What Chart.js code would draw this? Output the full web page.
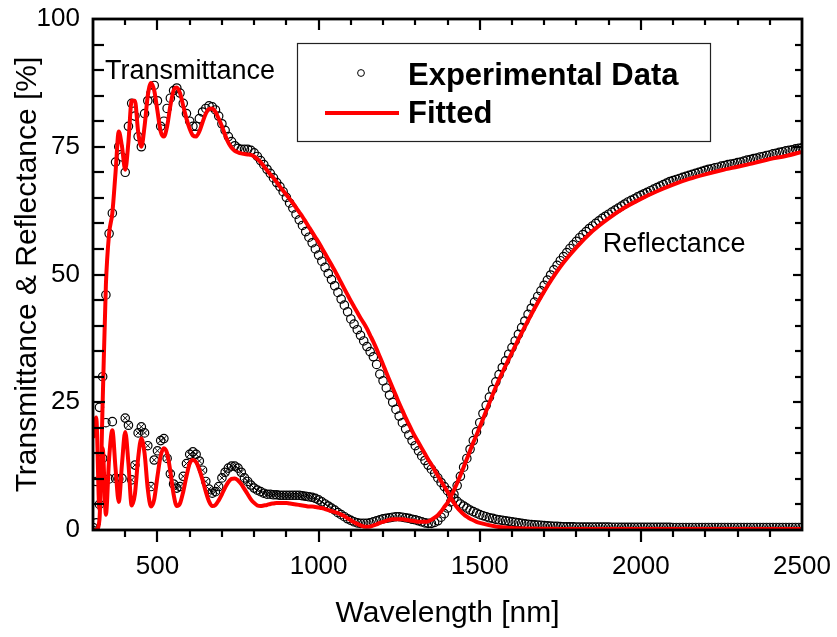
<!DOCTYPE html>
<html>
<head>
<meta charset="utf-8">
<script src="https://cdn.jsdelivr.net/npm/chart.js@4.4.1/dist/chart.umd.min.js"></script>
<style>
html,body{margin:0;padding:0;background:#fff;}
#wrap{width:837px;height:637px;}
</style>
</head>
<body>
<div id="wrap"><canvas id="c" width="837" height="637"></canvas></div>
<script>
// ---------------- DATA ----------------
const xTickValues = [500, 1000, 1500, 2000, 2500];
const yTickValues = [0, 25, 50, 75, 100];

// Experimental wavelengths (nm)
const expWl = [
300,310,320,330,340,350,360,370,380,390,
400,410,420,430,440,450,460,470,480,490,
500,510,520,530,540,550,560,570,580,590,
600,610,620,630,640,650,660,670,680,690,
700,710,720,730,740,750,760,770,780,790,
800,810,820,830,840,850,860,870,880,890,
900,910,920,930,940,950,960,970,980,990,
1000,1010,1020,1030,1040,1050,1060,1070,1080,1090,
1100,1110,1120,1130,1140,1150,1160,1170,1180,1190,
1200,1210,1220,1230,1240,1250,1260,1270,1280,1290,
1300,1310,1320,1330,1340,1350,1360,1370,1380,1390,
1400,1410,1420,1430,1440,1450,1460,1470,1480,1490,
1500,1510,1520,1530,1540,1550,1560,1570,1580,1590,
1600,1610,1620,1630,1640,1650,1660,1670,1680,1690,
1700,1710,1720,1730,1740,1750,1760,1770,1780,1790,
1800,1810,1820,1830,1840,1850,1860,1870,1880,1890,
1900,1910,1920,1930,1940,1950,1960,1970,1980,1990,
2000,2010,2020,2030,2040,2050,2060,2070,2080,2090,
2100,2110,2120,2130,2140,2150,2160,2170,2180,2190,
2200,2210,2220,2230,2240,2250,2260,2270,2280,2290,
2300,2310,2320,2330,2340,2350,2360,2370,2380,2390,
2400,2410,2420,2430,2440,2450,2460,2470,2480,2490,
2500];

// Experimental transmittance (%)
const expT = [
0.5,1.4,5,30,46,58,62,72,75,73,
70,79,83.5,81,77,75,81.5,84,85.5,87,
84,79,80,82.5,84.5,86,86.5,85.5,83.5,81.5,
80,79,79,80.5,81.8,82.5,83,82.8,82.2,81,
79.5,78.2,77,76,75.2,74.7,74.5,74.5,74.5,74.3,
73.8,73.1,72.3,71.5,70.6,69.8,68.9,68,67.2,66.2,
65.1,64,63,61.8,60.7,59.6,58.4,57.3,56.2,55,
53.8,52.6,51.4,50.2,49,47.8,46.5,45.2,44,42.7,
41.3,40.3,39.2,38.1,37,35.9,34.9,33.9,32.4,30.5,
29.2,27.8,26.4,25,23.6,22.3,21,19.8,18.6,17.5,
16.5,15.5,14.5,13.6,12.7,11.9,11.1,10.2,9.3,8.5,
7.7,6.9,6.2,5.6,5.1,4.7,4.3,3.9,3.6,3.3,
3.0,2.8,2.6,2.4,2.3,2.1,2.0,1.9,1.8,1.7,
1.6,1.5,1.4,1.3,1.2,1.1,1.05,1.0,0.95,0.9,
0.85,0.8,0.75,0.72,0.7,0.67,0.65,0.63,0.62,0.61,
0.6,0.6,0.59,0.59,0.58,0.58,0.57,0.57,0.56,0.56,
0.56,0.55,0.55,0.55,0.54,0.54,0.54,0.53,0.53,0.53,
0.53,0.52,0.52,0.52,0.52,0.51,0.51,0.51,0.51,0.51,
0.5,0.5,0.5,0.5,0.5,0.5,0.5,0.5,0.5,0.5,
0.5,0.5,0.5,0.5,0.5,0.5,0.5,0.5,0.5,0.5,
0.5,0.5,0.5,0.5,0.5,0.5,0.5,0.5,0.5,0.5,
0.5,0.5,0.5,0.5,0.5,0.5,0.5,0.5,0.5,0.5,
0.5];

// Experimental reflectance (%)
const expR = [
20,9.5,24,14,21,10,21.2,10.1,10,10.1,
21.9,20.5,9.8,12.7,19,20.2,19,16.5,8.5,13.7,
15.5,17.5,17.9,14,11,9,8.2,8.5,10.5,13,
14.8,15.3,14.8,13.5,11.7,9.5,8,7.2,7.5,8.5,
10.2,11.3,12.1,12.5,12.5,12.1,11.3,10.2,9.5,8.8,
8.2,7.8,7.5,7.2,7.0,7.0,6.9,6.9,6.8,6.8,
6.8,6.8,6.8,6.8,6.8,6.7,6.6,6.5,6.4,6.2,
5.9,5.5,5.1,4.7,4.3,3.9,3.4,3.0,2.6,2.2,
1.9,1.6,1.4,1.3,1.3,1.3,1.4,1.6,1.8,2.0,
2.2,2.3,2.4,2.5,2.6,2.6,2.5,2.4,2.3,2.1,
2.0,1.8,1.6,1.4,1.3,1.3,1.5,1.8,2.5,3.2,
4.3,5.5,7.0,8.7,10.5,12.3,14.0,15.8,17.5,19.2,
21.0,22.8,24.4,26.0,27.5,29.0,30.4,31.8,33.1,34.4,
35.7,37.0,38.3,39.6,40.9,42.2,43.4,44.6,45.7,46.8,
47.9,48.9,49.9,50.9,51.8,52.7,53.5,54.3,55.1,55.8,
56.5,57.2,57.8,58.4,59.0,59.5,60.0,60.5,61.0,61.4,
61.8,62.2,62.6,63.0,63.4,63.8,64.2,64.5,64.8,65.2,
65.5,65.8,66.1,66.4,66.7,67.0,67.3,67.6,67.9,68.2,
68.4,68.6,68.8,69.0,69.2,69.4,69.6,69.8,70.0,70.2,
70.4,70.6,70.7,70.9,71.0,71.2,71.3,71.5,71.6,71.7,
71.9,72.0,72.2,72.4,72.5,72.7,72.8,73.0,73.1,73.3,
73.4,73.6,73.7,73.9,74.0,74.2,74.3,74.4,74.6,74.7,
74.8];

// Fitted wavelengths (nm)
const fitWl = [
300,310,320,330,340,350,360,370,380,390,
400,410,420,430,440,450,460,470,480,490,
500,510,520,530,540,550,560,570,580,590,
600,610,620,630,640,650,660,670,680,690,
700,710,720,730,740,750,760,770,780,790,
800,810,820,830,840,850,860,870,880,890,
900,910,920,930,940,950,960,970,980,990,
1000,1010,1020,1030,1040,1050,1060,1070,1080,1090,
1100,1110,1120,1130,1140,1150,1160,1170,1180,1190,
1200,1210,1220,1230,1240,1250,1260,1270,1280,1290,
1300,1310,1320,1330,1340,1350,1360,1370,1380,1390,
1400,1410,1420,1430,1440,1450,1460,1470,1480,1490,
1500,1550,1600,1650,1700,1750,1800,1850,1900,1950,
2000,2050,2100,2150,2200,2250,2300,2350,2400,2450,
2500];

// Fitted transmittance (%)
const fitT = [
0,0,2,25,48,58,62,70,78,75,
70.5,76,84,84,78,75,79,85,87.5,86,
82,78,77,79,83,86,86.6,85.5,83,80.5,
78.5,77.2,77,78,79.8,81.5,82.4,82.5,81.8,80.5,
79,77.3,75.8,74.8,74.2,73.9,73.7,73.6,73.5,73.4,
73.1,72.6,72,71.2,70.4,69.6,68.9,68.1,67.2,66.4,
65.6,64.8,64.0,63.1,62.2,61.3,60.3,59.3,58.3,57.3,
56.3,55.2,54.1,53.0,51.9,50.8,49.6,48.4,47.2,46.0,
44.8,43.7,42.6,41.5,40.5,39.4,38.1,36.8,35.4,33.9,
32.4,30.8,29.3,27.8,26.3,24.8,23.4,22.0,20.7,19.4,
18.2,17.1,16.0,14.9,13.8,12.8,11.7,10.6,9.6,8.5,
7.5,6.4,5.3,4.4,3.7,3.1,2.6,2.2,1.9,1.6,
1.4,0.7,0.4,0.3,0.25,0.2,0.2,0.2,0.2,0.2,
0.2,0.2,0.2,0.2,0.2,0.2,0.2,0.2,0.2,0.2,
0.2];

// Fitted reflectance (%)
const fitR = [
18,22,4,16,3,14,19.5,12,5.5,13,
19.2,13,4.8,7,14,17.9,15,8,4.6,6,
10.5,14.5,16,15,11.5,7,4.7,5.2,7.5,10.5,
13,13.7,13.3,11.8,9.8,7.5,5.6,4.7,4.9,5.8,
7,8.3,9.4,10,10.1,9.7,9,8,7,6,
5.3,4.8,4.7,4.8,4.9,5.1,5.2,5.3,5.3,5.3,
5.3,5.2,5.1,5,4.9,4.8,4.7,4.6,4.6,4.5,
4.4,4.3,4.1,3.9,3.7,3.5,3.3,3.0,2.7,2.3,
1.9,1.5,1.2,0.9,0.7,0.65,0.7,0.9,1.1,1.4,
1.6,1.8,2.0,2.1,2.1,2.1,2.1,2.0,1.9,1.8,
1.7,1.6,1.6,1.6,1.7,2.0,2.4,2.9,3.6,4.5,
5.3,6.5,7.8,9.2,10.7,12.3,13.9,15.5,17.1,18.6,
20.1,28,34.7,41,46.7,51.5,55.3,58.5,61,63.1,
64.8,66.3,67.6,68.7,69.6,70.4,71.1,71.8,72.6,73.2,
74];

// Text
const xTitle = 'Wavelength [nm]';
const yTitle = 'Transmittance & Reflectance [%]';
const legendLabels = ['Experimental Data', 'Fitted'];
const annotations = [
  {text: 'Transmittance', x: 337, y: 88.3},
  {text: 'Reflectance', x: 1882, y: 54.4}
];

// ---------------- CHART ----------------
const FONT = "'Liberation Sans', Arial, Helvetica, sans-serif";
Chart.defaults.font.family = FONT;
Chart.defaults.color = '#000';

const pts = (xs, ys) => xs.map((v, i) => ({x: v, y: ys[i]}));
const expRPts = pts(expWl, expR);

const framePlugin = {
  id: 'frame',
  afterDatasetsDraw(chart) {
    const {ctx, chartArea: a, scales: {x, y}} = chart;
    ctx.save();
    ctx.strokeStyle = '#000';
    ctx.lineCap = 'butt';
    const seg = (x1, y1, x2, y2) => { ctx.beginPath(); ctx.moveTo(x1, y1); ctx.lineTo(x2, y2); ctx.stroke(); };
    ctx.lineWidth = 2.2;
    for (let v = 400; v < 2500; v += 100) {
      const px = Math.round(x.getPixelForValue(v));
      const major = v % 500 === 0;
      seg(px, a.bottom, px, a.bottom + (major ? 12 : 7));
      seg(px, a.top, px, a.top + (major ? 11 : 6));
    }
    for (let v = 5; v < 100; v += 5) {
      const py = Math.round(y.getPixelForValue(v));
      const major = v % 25 === 0;
      seg(a.left, py, a.left + (major ? 12 : 11), py);
      seg(a.right, py, a.right - (major ? 9 : 7), py);
    }
    ctx.lineWidth = 2.8;
    ctx.strokeRect(a.left, a.top, a.right - a.left, a.bottom - a.top);

    // annotations
    ctx.fillStyle = '#000';
    ctx.font = '27px ' + FONT;
    ctx.textAlign = 'left';
    ctx.textBaseline = 'alphabetic';
    annotations.forEach(t => ctx.fillText(t.text, x.getPixelForValue(t.x), y.getPixelForValue(t.y)));

    // legend box
    const bx = a.left + 204, by = a.top + 24, bw = 413, bh = 98;
    ctx.fillStyle = '#fff';
    ctx.fillRect(bx, by, bw, bh);
    ctx.lineWidth = 1.2;
    ctx.strokeStyle = '#222';
    ctx.strokeRect(bx + 0.5, by + 0.5, bw, bh);
    // marker
    ctx.beginPath();
    ctx.arc(bx + 64, by + 30, 3.4, 0, Math.PI * 2);
    ctx.strokeStyle = '#000';
    ctx.lineWidth = 1;
    ctx.stroke();
    // line
    ctx.beginPath();
    ctx.moveTo(bx + 28, by + 70);
    ctx.lineTo(bx + 102, by + 70);
    ctx.strokeStyle = '#ff0000';
    ctx.lineWidth = 4;
    ctx.stroke();
    ctx.fillStyle = '#000';
    ctx.font = 'bold 31px ' + FONT;
    ctx.fillText(legendLabels[0], bx + 111, by + 42);
    ctx.fillText(legendLabels[1], bx + 111, by + 80);
    ctx.restore();
  }
};

new Chart(document.getElementById('c'), {
  type: 'line',
  data: {
    datasets: [
      {
        label: 'Fitted T', data: pts(fitWl, fitT), borderColor: '#ff0000', borderWidth: 4,
        pointRadius: 0, cubicInterpolationMode: 'monotone', fill: false, order: 0
      },
      {
        label: 'Fitted R', data: pts(fitWl, fitR), borderColor: '#ff0000', borderWidth: 4,
        pointRadius: 0, cubicInterpolationMode: 'monotone', fill: false, order: 0
      },
      {
        label: 'Experimental T', data: pts(expWl, expT), showLine: false, pointStyle: 'circle',
        pointRadius: 4.2, pointBorderWidth: 1.2, pointBorderColor: '#000',
        pointBackgroundColor: 'rgba(0,0,0,0)', order: 2
      },
      {
        label: 'Experimental R', data: expRPts, showLine: false, pointStyle: 'circle',
        pointRadius: 4.2, pointBorderWidth: 1.2, pointBorderColor: '#000',
        pointBackgroundColor: 'rgba(0,0,0,0)', order: 2
      },
      {
        label: 'Experimental R x', data: expRPts.filter(p => p.x >= 400 && p.x <= 1050), showLine: false,
        pointStyle: 'crossRot', pointRadius: 3.8, pointBorderWidth: 1, pointBorderColor: '#000', order: 2
      }
    ]
  },
  options: {
    responsive: false,
    devicePixelRatio: 1,
    animation: false,
    events: [],
    layout: {padding: {top: 19, right: 35, left: 0, bottom: 0}},
    plugins: {legend: {display: false}, tooltip: {enabled: false}},
    scales: {
      x: {
        type: 'linear', min: 300, max: 2500,
        afterBuildTicks: s => { s.ticks = xTickValues.map(v => ({value: v})); },
        afterFit: s => { s.height = 107; s.paddingLeft = 0; s.paddingRight = 0; },
        ticks: {font: {size: 26}, color: '#000', padding: 21, maxRotation: 0, autoSkip: false, callback: v => String(v)},
        grid: {display: false, drawTicks: false},
        border: {display: false},
        title: {display: true, text: xTitle, font: {size: 30}, color: '#000', padding: {top: 0, bottom: 5}}
      },
      y: {
        type: 'linear', min: 0, max: 100,
        afterBuildTicks: s => { s.ticks = yTickValues.map(v => ({value: v})); },
        afterFit: s => { s.width = 93; s.paddingTop = 0; s.paddingBottom = 0; },
        ticks: {font: {size: 26}, color: '#000', padding: 13, callback: v => String(v)},
        grid: {display: false, drawTicks: false},
        border: {display: false},
        title: {display: true, text: yTitle, font: {size: 30}, color: '#000', padding: {top: 10, bottom: 0}}
      }
    }
  },
  plugins: [framePlugin]
});
</script>
</body>
</html>
